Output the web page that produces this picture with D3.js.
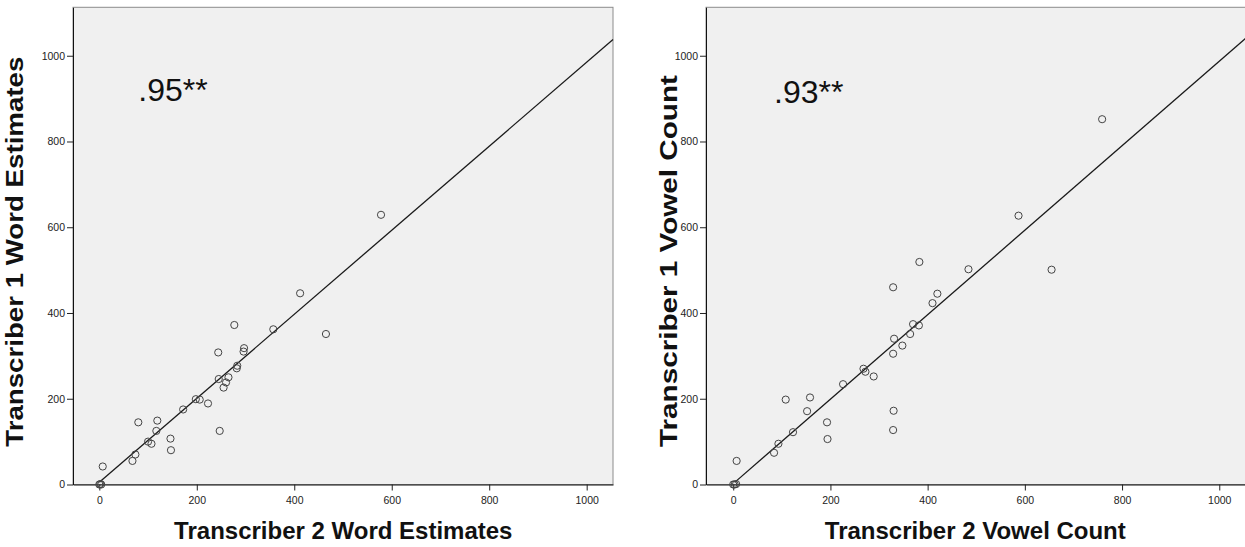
<!DOCTYPE html>
<html>
<head>
<meta charset="utf-8">
<script src="https://cdn.jsdelivr.net/npm/d3@7"></script>
<style>
  body { margin: 0; background: #fff; }
  svg { display: block; font-family: 'Liberation Sans', Arial, sans-serif; }
  .tick text { font-size: 10.5px; fill: #222; }
  .tick line { stroke: #222; }
  .domain { stroke: #111; }
</style>
</head>
<body>
<svg id="chart" width="1245" height="547"></svg>
<script>
// values
const wordT2 = [0, 2, 4, 7, 68, 74, 80, 100, 107, 117, 119, 146, 147, 172, 198, 206, 223, 247, 244, 245, 255, 260, 265, 277, 282, 283, 297, 296, 357, 412, 465, 578];
const wordT1 = [0, 1, 0, 42, 55, 70, 145, 100, 95, 125, 149, 107, 80, 175, 199, 198, 189, 125, 308, 246, 226, 238, 250, 372, 271, 277, 318, 310, 362, 446, 351, 629];

const vowelT2 = [0, 3, 6, 7, 84, 93, 108, 123, 152, 158, 193, 194, 226, 268, 272, 289, 329, 331, 329, 330, 329, 348, 364, 370, 382, 410, 420, 383, 484, 655, 587, 759];
const vowelT1 = [0, 0, 1, 55, 74, 95, 198, 122, 171, 203, 145, 106, 234, 270, 263, 252, 460, 340, 305, 172, 127, 324, 351, 374, 371, 423, 445, 519, 502, 501, 627, 852];

// fit lines: [slope, intercept, x start]
const wordFit = [0.98, 5, 0];
const vowelFit = [0.985, 2, 3];

const tickValues = [0, 200, 400, 600, 800, 1000];
const rValues = ['.95**', '.93**'];

const svg = d3.select('#chart');

function drawPanel(opts) {
  const x = d3.scaleLinear().domain(opts.xDomain).range([opts.left, opts.right]);
  const y = d3.scaleLinear().domain([0, 1113]).range([484.5, 7.3]);
  const g = svg.append('g');

  g.append('rect')
    .attr('x', opts.left).attr('y', y.range()[1])
    .attr('width', opts.right - opts.left)
    .attr('height', y.range()[0] - y.range()[1])
    .attr('fill', '#f0f0f0')
    .attr('stroke', '#8c8c8c');

  g.append('g')
    .attr('transform', `translate(0,${y.range()[0]})`)
    .call(d3.axisBottom(x).tickValues(tickValues).tickFormat(d3.format('d'))
      .tickSize(6).tickSizeOuter(0).tickPadding(6.5));

  g.append('g')
    .attr('transform', `translate(${opts.left},0)`)
    .call(d3.axisLeft(y).tickValues(tickValues).tickFormat(d3.format('d'))
      .tickSize(6).tickSizeOuter(0).tickPadding(2));

  const fit = opts.fit;
  const xEnd = opts.xDomain[1];
  g.append('line')
    .attr('x1', x(fit[2])).attr('y1', y(fit[0] * fit[2] + fit[1]))
    .attr('x2', x(xEnd)).attr('y2', y(fit[0] * xEnd + fit[1]))
    .attr('stroke', '#1a1a1a')
    .attr('stroke-width', 1.3);

  g.selectAll('circle.pt')
    .data(opts.xs.map((v, i) => [v, opts.ys[i]]))
    .enter().append('circle')
      .attr('class', 'pt')
      .attr('cx', d => x(d[0]))
      .attr('cy', d => y(d[1]))
      .attr('r', 3.6)
      .attr('fill', 'none')
      .attr('stroke', '#444')
      .attr('stroke-width', 1);

  g.append('text')
    .attr('x', opts.rPos[0]).attr('y', opts.rPos[1])
    .attr('font-size', 32)
    .attr('fill', '#111')
    .text(opts.r);

  g.append('text')
    .attr('x', opts.xLabelX).attr('y', 539.3)
    .attr('text-anchor', 'middle')
    .attr('font-size', 24).attr('font-weight', 'bold')
    .attr('fill', '#111')
    .text(opts.xLabel);

  g.append('text')
    .attr('transform', `translate(${opts.yLabelPos[0]},${opts.yLabelPos[1]}) rotate(-90)`)
    .attr('text-anchor', 'middle')
    .attr('font-size', 24).attr('font-weight', 'bold')
    .attr('textLength', opts.yLabelLen).attr('lengthAdjust', 'spacingAndGlyphs')
    .attr('fill', '#111')
    .text(opts.yLabel);
}

drawPanel({
  xs: wordT2, ys: wordT1, fit: wordFit,
  xDomain: [-54, 1054], left: 73, right: 613,
  r: rValues[0], rPos: [138.3, 101],
  xLabel: 'Transcriber 2 Word Estimates', xLabelX: 343.3,
  yLabel: 'Transcriber 1 Word Estimates', yLabelPos: [23.3, 251.7], yLabelLen: 390
});

drawPanel({
  xs: vowelT2, ys: vowelT1, fit: vowelFit,
  xDomain: [-56, 1055], left: 706, right: 1246,
  r: rValues[1], rPos: [774, 102.7],
  xLabel: 'Transcriber 2 Vowel Count', xLabelX: 975.3,
  yLabel: 'Transcriber 1 Vowel Count', yLabelPos: [676.7, 261], yLabelLen: 372
});
</script>
</body>
</html>
